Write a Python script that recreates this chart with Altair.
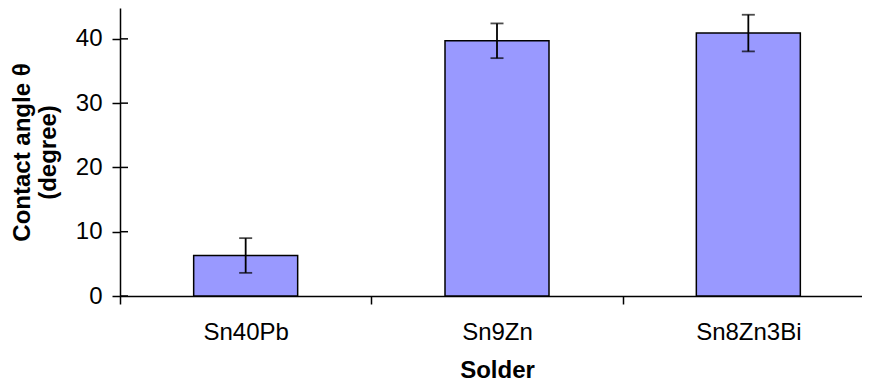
import altair as alt
import pandas as pd

solders = ["Sn40Pb", "Sn9Zn", "Sn8Zn3Bi"]
angles = [6.3, 39.7, 40.9]
errors = [2.7, 2.7, 2.85]
y_ticks = [0, 10, 20, 30, 40]

df = pd.DataFrame({
    "solder": solders,
    "angle": angles,
    "lo": [a - e for a, e in zip(angles, errors)],
    "hi": [a + e for a, e in zip(angles, errors)],
})
ticks_df = pd.DataFrame({"t": y_ticks})

FONT = "Liberation Sans"
FS = 24

x_enc = alt.X(
    "solder:N",
    sort=solders,
    scale=alt.Scale(range=[0, 754], paddingInner=0, paddingOuter=0),
    axis=alt.Axis(
        title="Solder",
        labelAngle=0,
        labelFontSize=FS,
        labelFont=FONT,
        labelColor="black",
        labelPadding=16,
        tickSize=8,
        tickColor="black",
        tickWidth=1.5,
        tickBand="extent",
        domainColor="black",
        domainWidth=1.5,
        titleFontSize=FS,
        titleFont=FONT,
        titleFontWeight="bold",
        titleColor="black",
        titlePadding=14,
    ),
)

y_scale = alt.Scale(domain=[0, 44.8], nice=False, zero=True)

y_enc = alt.Y(
    "angle:Q",
    scale=y_scale,
    axis=alt.Axis(
        title=["Contact angle θ", "(degree)"],
        values=y_ticks,
        grid=False,
        labelFontSize=FS,
        labelFont=FONT,
        labelColor="black",
        labelPadding=10,
        tickSize=8,
        tickColor="black",
        tickWidth=1.5,
        domainColor="black",
        domainWidth=1.5,
        titleFontSize=FS,
        titleFont=FONT,
        titleFontWeight="bold",
        titleColor="black",
        titlePadding=15,
        titleLineHeight=26,
    ),
)

bars = alt.Chart(df).mark_bar(
    size=104, color="#9999FF", stroke="black", strokeWidth=1.5
).encode(x=x_enc, y=y_enc)

err = alt.Chart(df).mark_rule(color="black", strokeWidth=1.8).encode(
    x=alt.X("solder:N", sort=solders),
    y=alt.Y("lo:Q", scale=y_scale),
    y2="hi:Q",
)

cap_lo = alt.Chart(df).mark_tick(
    color="black", size=13, thickness=1.8, orient="horizontal"
).encode(x=alt.X("solder:N", sort=solders), y=alt.Y("lo:Q", scale=y_scale))

cap_hi = alt.Chart(df).mark_tick(
    color="black", size=13, thickness=1.8, orient="horizontal"
).encode(x=alt.X("solder:N", sort=solders), y=alt.Y("hi:Q", scale=y_scale))

inner_ticks = alt.Chart(ticks_df).mark_rule(color="black", strokeWidth=1.5).encode(
    y=alt.Y("t:Q", scale=y_scale),
    x=alt.value(0),
    x2=alt.value(8),
)

chart = (
    alt.layer(bars, err, cap_lo, cap_hi, inner_ticks)
    .properties(
        width=742,
        height=288,
        autosize=alt.AutoSizeParams(type="none"),
        padding={"left": 112, "top": 0, "right": 0, "bottom": 86},
        background="white",
    )
    .configure_view(stroke=None)
)

chart.save("out.html", embed_options={"renderer": "svg", "actions": False})
